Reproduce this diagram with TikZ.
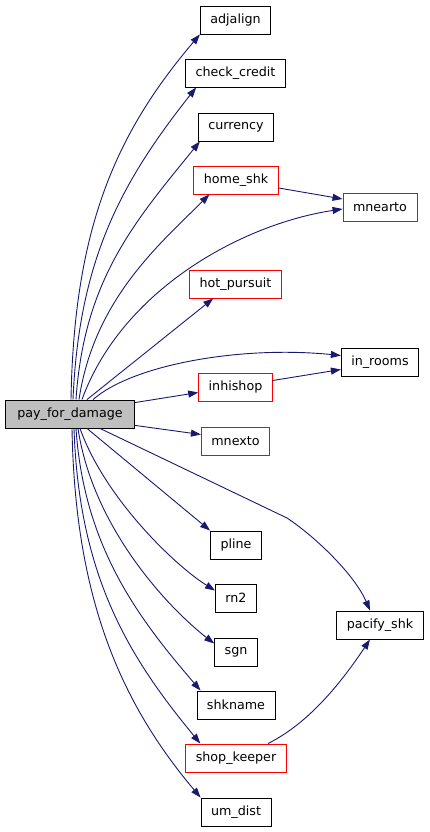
\documentclass[tikz,border=0pt]{standalone}
\usepackage{fontspec}
\setmainfont{DejaVu Sans}
\usetikzlibrary{arrows.meta,positioning}
\definecolor{edgeblue}{RGB}{25,25,112}
\definecolor{boxred}{RGB}{255,0,0}

\begin{document}
\begin{tikzpicture}[x=1pt, y=1pt,
  fn/.style={draw=black, line width=0.9pt, minimum height=28pt,
    inner xsep=10pt, inner ysep=0pt, font=\fontsize{12.7}{15}\selectfont},
  fnred/.style={fn, draw=boxred},
  fnroot/.style={fn, fill=gray!50, inner xsep=12pt},
  call/.style={edgeblue, line width=0.9pt, -{Triangle[length=10pt,width=7pt]}}]
  \useasboundingbox (0,0) rectangle (429,832);

  % caller
  \node[fnroot] (pfd) at (70,418) {pay\_for\_damage};

  % callees, first column
  \node[fn]    (adjalign)    at (235.5,812) {adjalign};
  \node[fn]    (checkcredit) at (235.5,759) {check\_credit};
  \node[fn]    (currency)    at (236,705)   {currency};
  \node[fnred] (homeshk)     at (236,652)   {home\_shk};
  \node[fnred] (hotpursuit)  at (235.5,548) {hot\_pursuit};
  \node[fnred] (inhishop)    at (235.5,445) {inhishop};
  \node[fnred] (mnexto)      at (235.5,391) {mnexto};
  \node[fn]    (pline)       at (236,287)   {pline};
  \node[fn]    (rntwo)       at (236,234)   {rn2};
  \node[fn]    (sgn)         at (236,180)   {sgn};
  \node[fn]    (shkname)     at (236,127)   {shkname};
  \node[fnred] (shopkeeper)  at (236,74)    {shop\_keeper};
  \node[fn]    (umdist)      at (236,20)    {um\_dist};

  % callees, second column
  \node[fnred] (mnearto)   at (380,625) {mnearto};
  \node[fn]    (inrooms)   at (380,470) {in\_rooms};
  \node[fn]    (pacifyshk) at (380,207) {pacify\_shk};

  % calls going up
  \draw[call] ([xshift=1pt]pfd.north) .. controls +(3,170) and +(-85,-100) .. (adjalign.south west);
  \draw[call] ([xshift=3pt]pfd.north) .. controls +(6,140) and +(-75,-95) .. ([xshift=11pt]checkcredit.south west);
  \draw[call] ([xshift=6pt]pfd.north) .. controls +(8,120) and +(-65,-80) .. ([xshift=2pt]currency.south west);
  \draw[call] ([xshift=9pt]pfd.north) .. controls +(15,100) and +(-50,-50) .. ([xshift=16pt]homeshk.south west);
  \draw[call] ([xshift=12pt]pfd.north) .. controls +(40,110) and +(-100,-15) .. ([yshift=-2pt]mnearto.west);
  \draw[call] ([xshift=17pt]pfd.north) -- ([xshift=24pt]hotpursuit.south west);
  \draw[call] ([xshift=23pt]pfd.north) .. controls +(40,35) and +(-100,10) .. ([yshift=6.5pt]inrooms.west);
  \draw[call] ([yshift=-3pt]pfd.north east) -- ([yshift=-5.5pt]inhishop.west);

  % calls going down
  \draw[call] ([yshift=3pt]pfd.south east) -- ([yshift=6.5pt]mnexto.west);
  \coordinate (bend) at (287,314);
  \draw[call] ([xshift=30pt]pfd.south) -- (bend)
    .. controls +(30,-20) and +(-15,35) .. ([xshift=-10pt]pacifyshk.north);
  \draw[call] ([xshift=17pt]pfd.south) -- (pline.north west);
  \draw[call] ([xshift=10pt]pfd.south) .. controls +(25,-70) and +(-40,25) .. ([yshift=-7pt]rntwo.north west);
  \draw[call] ([xshift=8pt]pfd.south) .. controls +(15,-100) and +(-45,35) .. ([yshift=-6pt]sgn.north west);
  \draw[call] ([xshift=6pt]pfd.south) .. controls +(8,-120) and +(-60,70) .. ([xshift=4pt]shkname.north west);
  \draw[call] ([xshift=4pt]pfd.south) .. controls +(5,-150) and +(-70,85) .. ([xshift=15pt]shopkeeper.north west);
  \draw[call] ([xshift=2pt]pfd.south) .. controls +(3,-170) and +(-80,95) .. (umdist.north west);

  % second level calls
  \draw[call] ([yshift=-8pt]homeshk.east) -- ([yshift=8pt]mnearto.west);
  \draw[call] ([yshift=6.5pt]inhishop.east) -- ([yshift=-7.5pt]inrooms.west);
  \draw[call] ([xshift=32pt]shopkeeper.north) .. controls +(40,20) and +(-30,-45) .. ([xshift=-10pt]pacifyshk.south);
\end{tikzpicture}
\end{document}
